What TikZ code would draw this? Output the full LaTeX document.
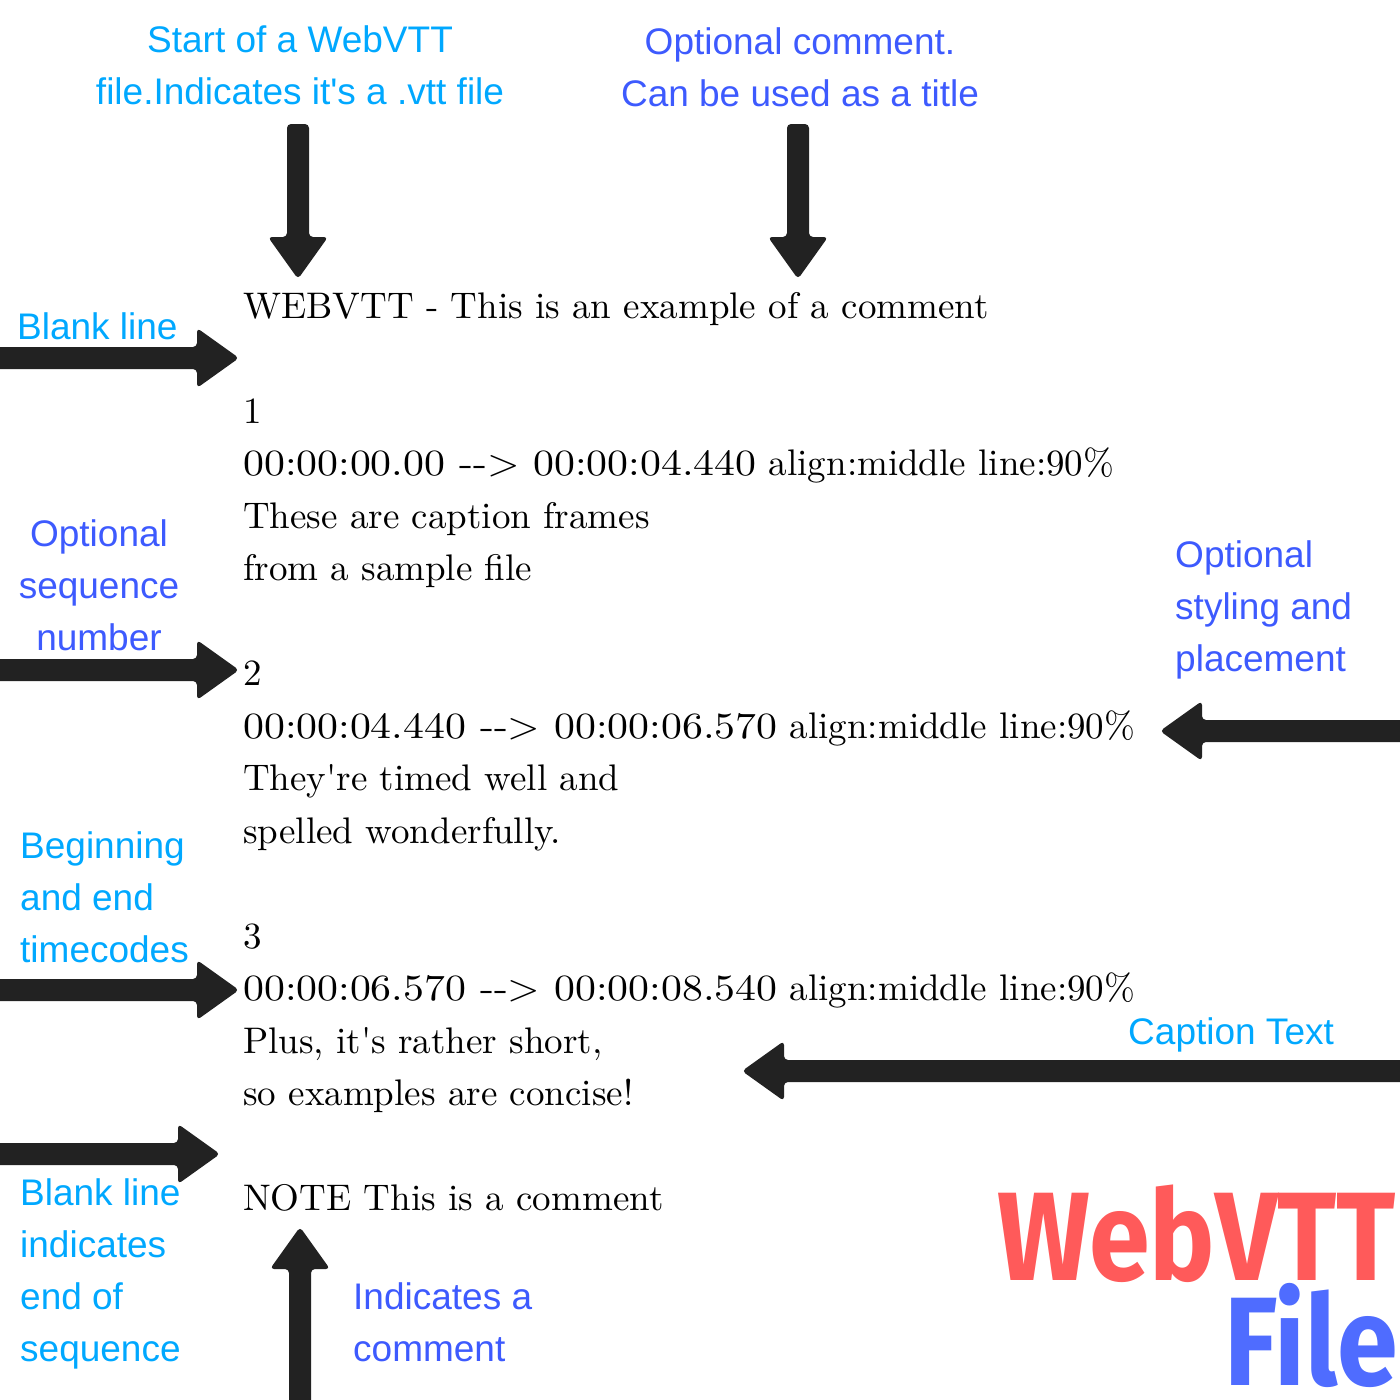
\documentclass[tikz,border=0pt]{standalone}
\usepackage{fontspec}
\newfontfamily\notefont{Liberation Sans}
\newfontfamily\codefont{lmroman10-regular}[Extension=.otf]
\newfontfamily\stampfont{lmroman10-regular}[Extension=.otf, FakeStretch=1.13]
\newfontfamily\titlefont{Fira Sans}[FakeStretch=0.87]
\newcommand{\stamp}[1]{{\stampfont #1}}
\definecolor{skyblue}{RGB}{0,168,255}
\definecolor{notecolor}{RGB}{61,90,254}
\definecolor{arrowgray}{RGB}{34,34,34}
\definecolor{titlered}{RGB}{255,90,90}
\definecolor{titleblue}{RGB}{79,108,255}
\tikzset{
  note/.style={inner sep=0pt, font=\notefont\fontsize{37}{52}\selectfont, text=#1},
  codeline/.style={inner sep=0pt, anchor=base west, font=\codefont\fontsize{37}{52.5}\selectfont},
  title/.style={inner sep=0pt, anchor=base east, font=\titlefont\bfseries\fontsize{126}{126}\selectfont, text=#1},
  pics/fatarrow/.style={code={
    \fill[arrowgray, rounded corners=4pt] (0,0) -- (-42,30) -- (-42,11) -- (-#1,11) -- (-#1,-11) -- (-42,-11) -- (-42,-30) -- cycle;
  }}
}
\begin{document}
\begin{tikzpicture}[x=1pt,y=-1pt]
  \useasboundingbox (0,0) rectangle (1400,1400);

  \foreach \n/\codeline in {0/{WEBVTT - This is an example of a comment},
      2/1, 3/{\stamp{00:00:00.00 --> 00:00:04.440} align:middle line:90\%},
      4/{These are caption frames}, 5/{from a sample file},
      7/2, 8/{\stamp{00:00:04.440 --> 00:00:06.570} align:middle line:90\%},
      9/{They're timed well and}, 10/{spelled wonderfully.},
      12/3, 13/{\stamp{00:00:06.570 --> 00:00:08.540} align:middle line:90\%},
      14/{Plus, it's rather short,}, 15/{so examples are concise!},
      17/{NOTE This is a comment}}
    \node[codeline] (line\n) at (243,{318+52.5*\n}) {\codeline};

  \node[note=skyblue, anchor=north, align=center] (startnote) at (300,25) {Start of a WebVTT\\file.Indicates it's a .vtt file};
  \node[note=notecolor, anchor=north, align=center] (commentnote) at (800,27) {Optional comment.\\Can be used as a title};
  \node[note=skyblue, anchor=base west] (blanknote) at (17,339) {Blank line};
  \node[note=notecolor, anchor=north, align=center] (seqnote) at (99,519) {Optional\\sequence\\number};
  \node[note=notecolor, anchor=north west, align=left] (stylenote) at (1175,540) {Optional\\styling and\\placement};
  \node[note=skyblue, anchor=north west, align=left] (timenote) at (20,831) {Beginning\\and end\\timecodes};
  \node[note=skyblue, anchor=base west] (captionnote) at (1128,1044) {Caption Text};
  \node[note=skyblue, anchor=north west, align=left] (endnote) at (20,1178) {Blank line\\indicates\\end of\\sequence};
  \node[note=notecolor, anchor=north west, align=left] (notenote) at (353,1282) {Indicates a\\comment};

  \pic[rotate=-90] at (298,279) {fatarrow=155};
  \pic[rotate=-90] at (798,279) {fatarrow=155};
  \pic at (239,358) {fatarrow=250};
  \pic at (239,670) {fatarrow=250};
  \pic at (239,990) {fatarrow=250};
  \pic at (220,1154) {fatarrow=230};
  \pic[rotate=180] at (1160,731) {fatarrow=250};
  \pic[rotate=180] at (742,1071) {fatarrow=670};
  \pic[rotate=90] at (300,1227) {fatarrow=180};

  \node[title=titlered] (webvtt) at (1396,1280) {WebVTT};
  \node[title=titleblue] (filetitle) at (1398,1385) {File};
\end{tikzpicture}
\end{document}
